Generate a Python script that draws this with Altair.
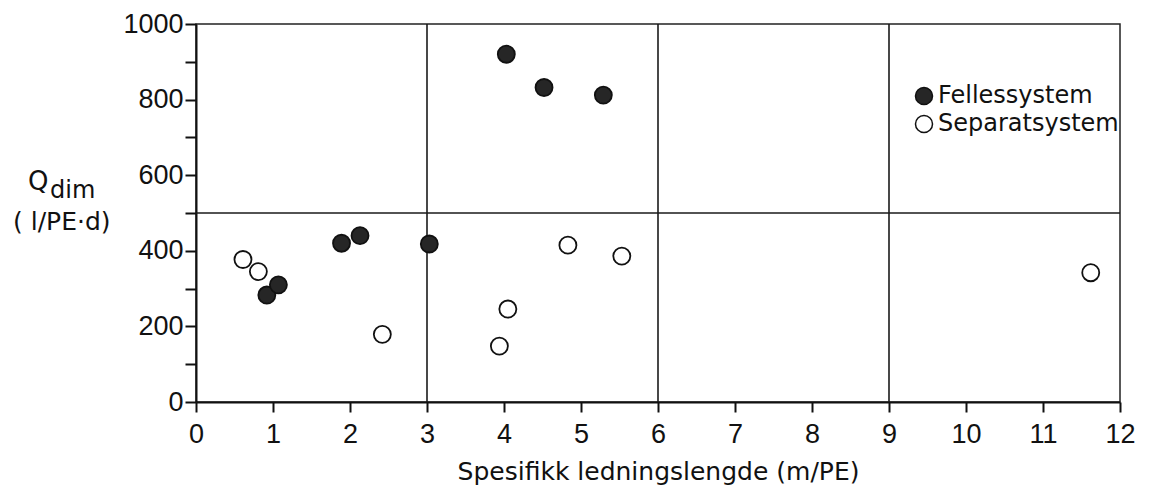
import altair as alt
import pandas as pd

# Data
fell_x = [0.92, 1.07, 1.89, 2.13, 3.03, 4.03, 4.52, 5.29]
fell_y = [283, 310, 420, 440, 418, 920, 832, 812]
sep_x = [0.61, 0.81, 2.42, 3.94, 4.05, 4.83, 5.53, 11.62]
sep_y = [377, 345, 179, 148, 246, 415, 386, 342]
series = ["Fellessystem", "Separatsystem"]
x_ticks = list(range(0, 13))
y_ticks = list(range(0, 1001, 100))
v_lines = [3, 6, 9]
h_lines = [500]

df = pd.DataFrame(
    {
        "x": fell_x + sep_x,
        "y": fell_y + sep_y,
        "system": [series[0]] * len(fell_x) + [series[1]] * len(sep_x),
    }
)
vdf = pd.DataFrame({"v": v_lines})
hdf = pd.DataFrame({"h": h_lines})

xscale = alt.Scale(domain=[0, 12], nice=False, zero=False)
yscale = alt.Scale(domain=[0, 1000], nice=False)

x_axis = alt.Axis(
    values=x_ticks,
    format="d",
    title="Spesifikk ledningslengde (m/PE)",
    titleFont="DejaVu Sans",
    titleFontSize=25,
    titleFontWeight="normal",
    titleColor="#111",
    titleBaseline="alphabetic",
    titleY=77,
    labelFont="Liberation Sans",
    labelFontSize=27,
    labelColor="#111",
    labelPadding=9,
    tickSize=10,
    tickWidth=2,
    tickColor="#111",
    domainColor="#111",
    domainWidth=2,
    grid=False,
    labelFlush=False,
    labelOverlap=False,
)
y_axis = alt.Axis(
    values=y_ticks,
    format="d",
    title=None,
    labelExpr="datum.value % 200 == 0 ? datum.label : ''",
    labelFont="Liberation Sans",
    labelFontSize=27,
    labelColor="#111",
    labelPadding=2,
    tickSize=11,
    tickWidth=2,
    tickColor="#111",
    domainColor="#111",
    domainWidth=2,
    grid=False,
    labelFlush=False,
    labelOverlap=False,
)

vrules = alt.Chart(vdf).mark_rule(color="#1a1a1a", strokeWidth=1.6).encode(
    x=alt.X("v:Q", scale=xscale, axis=x_axis)
)
hrules = alt.Chart(hdf).mark_rule(color="#1a1a1a", strokeWidth=1.6).encode(
    y=alt.Y("h:Q", scale=yscale, axis=y_axis)
)

points = alt.Chart(df).mark_point(
    shape="circle", size=290, filled=True, stroke="#111", strokeWidth=1.8, opacity=1
).encode(
    x=alt.X("x:Q", scale=xscale, axis=x_axis),
    y=alt.Y("y:Q", scale=yscale, axis=y_axis),
    fill=alt.Fill(
        "system:N",
        scale=alt.Scale(domain=series, range=["#262626", "#ffffff"]),
        legend=alt.Legend(
            title=None,
            orient="none",
            legendX=716,
            legendY=60,
            padding=0,
            symbolType="circle",
            symbolSize=290,
            symbolStrokeColor="#111",
            symbolStrokeWidth=1.5,
            labelFont="DejaVu Sans",
            labelFontSize=24,
            labelColor="#111",
            labelOffset=2,
            labelLimit=400,
            rowPadding=4,
            symbolOpacity=1,
        ),
    ),
)

q_text = alt.Chart(pd.DataFrame({"t": ["Q"]})).mark_text(
    font="DejaVu Sans", fontSize=26, align="left", baseline="alphabetic", color="#111"
).encode(x=alt.value(-168), y=alt.value(166), text="t:N")
dim_text = alt.Chart(pd.DataFrame({"t": ["dim"]})).mark_text(
    font="DejaVu Sans", fontSize=24, align="left", baseline="alphabetic", color="#111"
).encode(x=alt.value(-146), y=alt.value(174), text="t:N")
unit_text = alt.Chart(pd.DataFrame({"t": ["( l/PE·d)"]})).mark_text(
    font="DejaVu Sans", fontSize=25, align="left", baseline="alphabetic", color="#111"
).encode(x=alt.value(-183), y=alt.value(206), text="t:N")

chart = (
    alt.layer(vrules, hrules, points, q_text, dim_text, unit_text)
    .properties(
        width=924,
        height=378,
        autosize=alt.AutoSizeParams(type="none"),
        padding={"left": 188, "top": 16, "right": 24, "bottom": 84},
        background="white",
    )
    .configure_view(stroke="#222", strokeWidth=1.5)
)

chart.save("out.html", embed_options={"renderer": "svg", "actions": False})
